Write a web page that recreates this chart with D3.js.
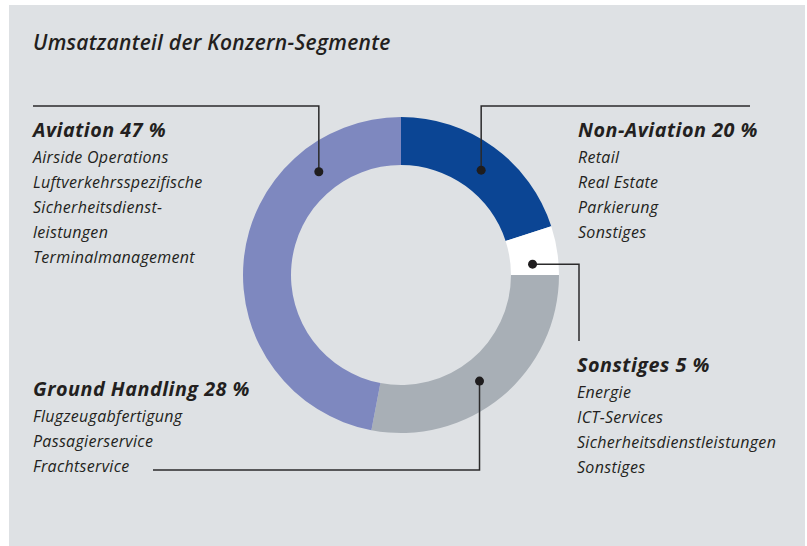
<!DOCTYPE html>
<html><head><meta charset="utf-8">
<script src="https://cdn.jsdelivr.net/npm/d3@7"></script>
<style>
html,body{margin:0;padding:0;background:#fff;}
svg{display:block;}
text{font-family:"Open Sans",sans-serif;font-style:italic;fill:#231f20;}
</style></head>
<body><svg id="c" width="807" height="546"></svg>
<script>
// ---- data ----
const title = "Umsatzanteil der Konzern-Segmente";
const categories = ["Non-Aviation", "Sonstiges", "Ground Handling", "Aviation"];
const shares = [20, 5, 28, 47];
const details = [
  ["Retail", "Real Estate", "Parkierung", "Sonstiges"],
  ["Energie", "ICT-Services", "Sicherheitsdienstleistungen", "Sonstiges"],
  ["Flugzeugabfertigung", "Passagierservice", "Frachtservice"],
  ["Airside Operations", "Luftverkehrsspezifische", "Sicherheitsdienst-", "leistungen", "Terminalmanagement"]
];
const colors = ["#0b4594", "#ffffff", "#a8afb6", "#7e88bf"];

// ---- layout ----
const W = 807, H = 546;
const cx = 401, cy = 275, rIn = 110, rOut = 158;
const svg = d3.select("#c");
svg.append("rect").attr("x", 9).attr("y", 5).attr("width", 796).attr("height", 541).attr("fill", "#dee1e4");

svg.append("text").attr("x", 33).attr("y", 50)
  .style("font-size", "21px").style("font-weight", 600).style("letter-spacing", "0.27px").text(title);

const pie = d3.pie().sort(null).value(d => d)(shares);
const arc = d3.arc().innerRadius(rIn).outerRadius(rOut);
const g = svg.append("g").attr("transform", `translate(${cx},${cy})`);
g.selectAll("path").data(pie).join("path").attr("d", arc).attr("fill", (d, i) => colors[i]);

// callouts: dot angle (deg, clockwise from top), leader route, label anchor
const callouts = [
  {angle: 37.4, route: (p) => [[p[0], p[1]], [p[0], 106], [750, 106]], label: [578, 137]},
  {angle: 85.3, route: (p) => [[p[0], p[1]], [579, p[1]], [579, 341]], label: [577, 372]},
  {angle: 143.5, route: (p) => [[p[0], p[1]], [p[0], 470], [153, 470]], label: [33, 396]},
  {angle: 321.5, route: (p) => [[p[0], p[1]], [p[0], 106], [33, 106]], label: [33, 137]}
];
const rDot = (rIn + rOut) / 2 - 2;
const line = d3.line();
callouts.forEach((c, i) => {
  const a = c.angle * Math.PI / 180;
  const p = [cx + rDot * Math.sin(a), cy - rDot * Math.cos(a)];
  svg.append("path").attr("d", line(c.route(p))).attr("fill", "none")
    .attr("stroke", "#2b2a2b").attr("stroke-width", 1.5);
  svg.append("circle").attr("cx", p[0]).attr("cy", p[1]).attr("r", 4.5).attr("fill", "#1f1d1e");
  const t = svg.append("g").attr("transform", `translate(${c.label[0]},${c.label[1]})`);
  t.append("text").style("font-size", "19.8px").style("font-weight", 700).style("letter-spacing", "0.5px")
    .text(`${categories[i]} ${shares[i]} %`);
  details[i].forEach((s, j) => {
    t.append("text").attr("y", 25 * (j + 1) + 0.5).style("font-size", "16px").style("font-weight", 400)
      .style("letter-spacing", "0.3px").text(s);
  });
});
</script></body></html>
